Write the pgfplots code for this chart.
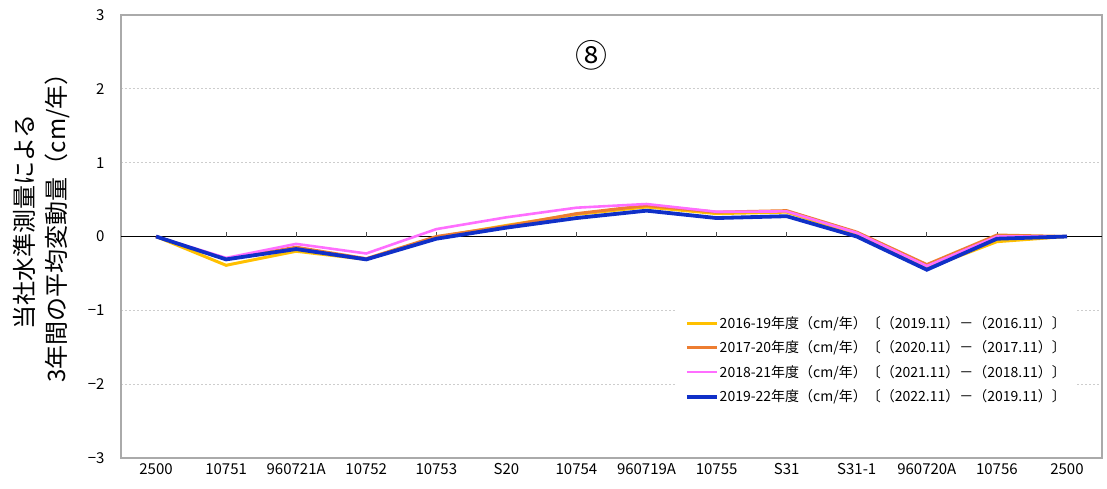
\documentclass[border=0pt]{standalone}
\usepackage{fontspec}
\setmainfont{Noto Sans CJK JP}
\usepackage{pgfplots}
\pgfplotsset{compat=1.18}

\definecolor{c1619}{RGB}{255,192,0}
\definecolor{c1720}{RGB}{237,125,49}
\definecolor{c1821}{RGB}{255,110,255}
\definecolor{c1922}{RGB}{16,48,200}
\definecolor{axisgray}{RGB}{170,170,170}
\definecolor{gridgray}{RGB}{205,205,205}

\begin{document}
\begin{tikzpicture}
  % page = 1107 x 488, axis box from (121,15) to (1102,458) in pixels
  \useasboundingbox (-121pt,-30pt) rectangle (986pt,458pt);
  \begin{axis}[
      at={(0,0)}, anchor=south west,
      scale only axis,
      width=981pt, height=443pt,
      xmin=-0.5, xmax=13.5,
      ymin=-3, ymax=3,
      xtick={0,...,13},
      xticklabels={2500,10751,960721A,10752,10753,S20,10754,960719A,10755,S31,S31-1,960720A,10756,2500},
      ytick={-3,-2,-1,0,1,2,3},
      yticklabels={−3,−2,−1,0,1,2,3},
      major tick length=0pt,
      axis line style={draw=axisgray, line width=1.2pt},
      ymajorgrids,
      grid style={draw=gridgray, dash pattern=on 2pt off 2pt, line width=0.8pt},
      xticklabel style={font=\fontsize{15}{18}\selectfont, yshift=-2pt},
      yticklabel style={font=\fontsize{15}{18}\selectfont, xshift=-13pt},
      ylabel={当社水準測量による\\3年間の平均変動量（cm/年）},
      ylabel style={font=\fontsize{24}{32}\selectfont, align=center,
        at={(axis description cs:-0.081,0.533)}, anchor=center, rotate=0},
      legend style={
          at={(0.9725,0.336)}, anchor=north east,
          draw=none, fill=white,
          font=\fontsize{14}{17}\selectfont,
          row sep=9pt, inner xsep=8pt, inner ysep=6pt,
          nodes={inner xsep=1pt, inner ysep=1pt},
      },
      legend cell align=left,
      legend image code/.code={\draw[#1] (0pt,0pt) -- (30pt,0pt);},
  ]

  % zero line and its small ticks
  \addplot[black, line width=1.4pt, forget plot] coordinates {(-0.5,0) (13.5,0)};
  \addplot[black!70, ycomb, line width=0.8pt, forget plot] coordinates {
  (1,0.06) (2,0.06) (3,0.06) (4,0.06) (5,0.06) (6,0.06) (7,0.06) (8,0.06) (9,0.06) (10,0.06) (11,0.06) (12,0.06)
  };

  % --- 2016-19 ---
  \addplot[c1619, line width=3pt] coordinates {
  (0,0) (1,-0.39) (2,-0.20) (3,-0.31) (4,-0.01) (5,0.15) (6,0.30) (7,0.40) (8,0.31) (9,0.33) (10,0.03) (11,-0.43) (12,-0.07) (13,0)
  };
  \addlegendentry{2016-19年度（cm/年）〔（2019.11）－（2016.11）〕}

  % --- 2017-20 ---
  \addplot[c1720, line width=3pt] coordinates {
  (0,0) (1,-0.31) (2,-0.145) (3,-0.30) (4,0.00) (5,0.14) (6,0.31) (7,0.42) (8,0.33) (9,0.35) (10,0.06) (11,-0.38) (12,0.02) (13,0)
  };
  \addlegendentry{2017-20年度（cm/年）〔（2020.11）－（2017.11）〕}

  % --- 2018-21 ---
  \addplot[c1821, line width=2.6pt] coordinates {
  (0,0) (1,-0.29) (2,-0.10) (3,-0.23) (4,0.10) (5,0.26) (6,0.39) (7,0.44) (8,0.335) (9,0.34) (10,0.05) (11,-0.40) (12,0.00) (13,0)
  };
  \addlegendentry{2018-21年度（cm/年）〔（2021.11）－（2018.11）〕}

  % --- 2019-22 ---
  \addplot[c1922, line width=3.8pt] coordinates {
  (0,0) (1,-0.31) (2,-0.17) (3,-0.31) (4,-0.03) (5,0.12) (6,0.25) (7,0.35) (8,0.25) (9,0.275) (10,0.00) (11,-0.45) (12,-0.03) (13,0)
  };
  \addlegendentry{2019-22年度（cm/年）〔（2022.11）－（2019.11）〕}

  \node[font=\fontsize{32}{36}\selectfont] at (axis cs:6.21,2.45) {⑧};

  \end{axis}
\end{tikzpicture}
\end{document}
